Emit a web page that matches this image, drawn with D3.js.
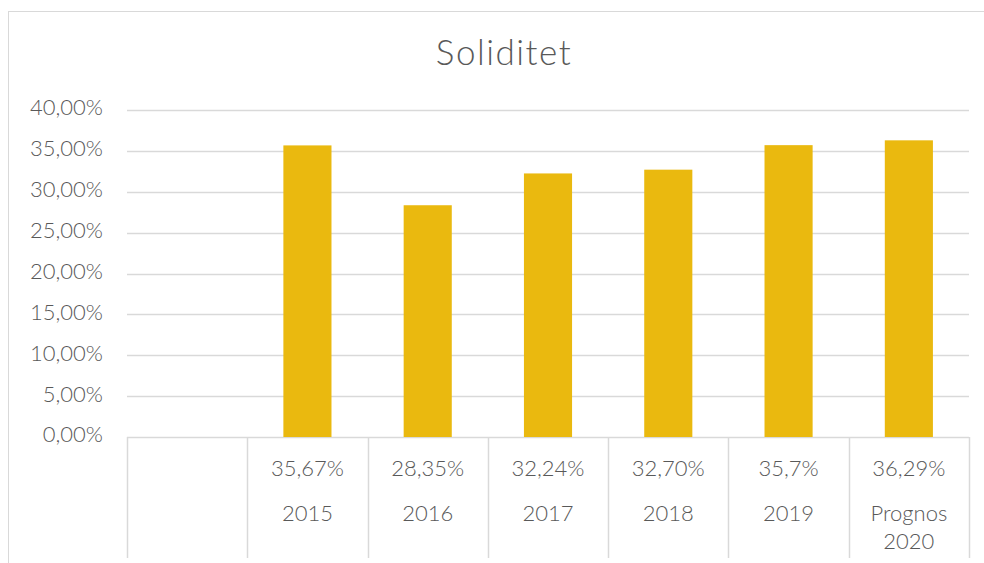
<!DOCTYPE html>
<html>
<head>
<meta charset="utf-8">
<script src="https://cdn.jsdelivr.net/npm/d3@7"></script>
<style>
  body { margin: 0; background: #fff; }
  text { font-family: "Lato", "DejaVu Sans", sans-serif; fill: #595959; font-weight: 300; }
</style>
</head>
<body>
<div id="chart"></div>
<script>
// data
const categories = ["", "2015", "2016", "2017", "2018", "2019", "Prognos 2020"];
const values = [null, 35.67, 28.35, 32.24, 32.70, 35.7, 36.29];
const valueLabels = ["", "35,67%", "28,35%", "32,24%", "32,70%", "35,7%", "36,29%"];
const yTicks = [0, 5, 10, 15, 20, 25, 30, 35, 40];

const width = 984, height = 563;
const svg = d3.select("#chart").append("svg")
  .attr("width", width)
  .attr("height", height);

// chart frame
svg.append("rect")
  .attr("x", 8.5).attr("y", 11.5)
  .attr("width", 990).attr("height", 570)
  .attr("fill", "none")
  .attr("stroke", "#d9d9d9");

svg.append("text")
  .text("Soliditet")
  .attr("x", 504).attr("y", 56)
  .attr("text-anchor", "middle")
  .attr("dominant-baseline", "middle")
  .attr("font-size", 35)
  .attr("letter-spacing", 1.5);

const x = d3.scaleBand()
  .domain(categories)
  .range([127, 969])
  .padding(0);
const y = d3.scaleLinear()
  .domain([0, 40])
  .range([437, 110]);

const sv = d3.formatLocale({ decimal: ",", thousands: " ", grouping: [3], currency: ["", " kr"] });
const fmt = sv.format(".2%");

// gridlines
svg.append("g")
  .selectAll("line")
  .data(yTicks)
  .enter()
  .append("line")
  .attr("x1", 127).attr("x2", 969)
  .attr("y1", (d) => Math.round(y(d)) + 0.5)
  .attr("y2", (d) => Math.round(y(d)) + 0.5)
  .attr("stroke", "#d9d9d9")
  .attr("stroke-width", 1.5);

svg.append("g")
  .selectAll("text")
  .data(yTicks)
  .enter()
  .append("text")
  .text((d) => fmt(d / 100))
  .attr("x", 103)
  .attr("y", (d) => y(d))
  .attr("text-anchor", "end")
  .attr("dominant-baseline", "middle")
  .attr("font-size", 22);

// bars
const barW = x.bandwidth() * 0.4;
svg.append("g")
  .selectAll("rect")
  .data(categories.map((c, i) => ({ c, v: values[i] })).filter((d) => d.v != null))
  .enter()
  .append("rect")
  .attr("x", (d) => x(d.c) + (x.bandwidth() - barW) / 2)
  .attr("y", (d) => y(d.v))
  .attr("width", barW)
  .attr("height", (d) => y(0) - y(d.v))
  .attr("fill", "#eab90f");

// data table under the axis
const tG = svg.append("g");
const tableBottom = 558;
tG.selectAll("line.v")
  .data(d3.range(categories.length + 1))
  .enter()
  .append("line")
  .attr("x1", (i) => Math.round(127 + i * x.step()) + 0.5)
  .attr("x2", (i) => Math.round(127 + i * x.step()) + 0.5)
  .attr("y1", y(0))
  .attr("y2", tableBottom)
  .attr("stroke", "#d9d9d9")
  .attr("stroke-width", 1.5);

tG.selectAll("text.val")
  .data(valueLabels)
  .enter()
  .append("text")
  .text((d) => d)
  .attr("x", (d, i) => x(categories[i]) + x.bandwidth() / 2)
  .attr("y", 471)
  .attr("text-anchor", "middle")
  .attr("dominant-baseline", "middle")
  .attr("font-size", 22);

tG.selectAll("text.cat")
  .data(categories)
  .enter()
  .append("text")
  .attr("x", (d) => x(d) + x.bandwidth() / 2)
  .attr("y", 516)
  .attr("text-anchor", "middle")
  .attr("dominant-baseline", "middle")
  .attr("font-size", 22)
  .each(function (d) {
    const words = d.split(" ");
    const t = d3.select(this);
    words.forEach((w, k) => {
      t.append("tspan")
        .attr("x", x(d) + x.bandwidth() / 2)
        .attr("dy", k === 0 ? 0 : 28)
        .text(w);
    });
  });
</script>
</body>
</html>
